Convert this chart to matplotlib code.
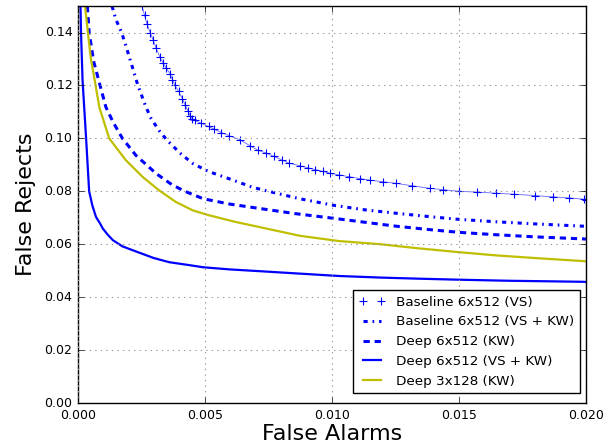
import numpy as np
import matplotlib
matplotlib.use("Agg")
import matplotlib.pyplot as plt
from matplotlib.ticker import FormatStrFormatter

plt.style.use("classic")

# values (false alarm rate, false reject rate)
base_vs_fa = [0.00252, 0.00262, 0.00272, 0.00284, 0.00296, 0.00308, 0.00323,
              0.00335, 0.00348, 0.00362, 0.00372, 0.00382, 0.00396, 0.00411,
              0.00421, 0.00432, 0.00442, 0.00449, 0.00462, 0.00483, 0.00514,
              0.00534, 0.00565, 0.00596, 0.00637, 0.00678, 0.00709, 0.0074,
              0.00771, 0.00802, 0.00832, 0.00873, 0.00904, 0.00935, 0.00966,
              0.00993, 0.01028, 0.01069, 0.0111, 0.01151, 0.01202, 0.01254,
              0.01315, 0.01387, 0.01439, 0.0150, 0.01572, 0.01644, 0.01716,
              0.01798, 0.0187, 0.01932, 0.01994, 0.0200]
base_vs_fr = [0.1500, 0.1465, 0.1432, 0.1400, 0.1372, 0.1340, 0.1306,
              0.1285, 0.1265, 0.1245, 0.1222, 0.1200, 0.1178, 0.1150,
              0.1128, 0.1105, 0.1085, 0.1075, 0.1068, 0.1058, 0.1045,
              0.1036, 0.1022, 0.1010, 0.0995, 0.0972, 0.0955, 0.0945,
              0.0932, 0.0919, 0.0906, 0.0897, 0.0889, 0.0882, 0.0875,
              0.0868, 0.0862, 0.0855, 0.0848, 0.0842, 0.0836, 0.0830,
              0.0821, 0.0811, 0.0806, 0.0800, 0.0797, 0.0793, 0.0789,
              0.0784, 0.0779, 0.0775, 0.0770, 0.0769]

base_vskw_fa = [0.00134, 0.00149, 0.00172, 0.00195, 0.00236, 0.00267,
                0.00288, 0.00319, 0.00349, 0.00401, 0.00452, 0.00514,
                0.00617, 0.00688, 0.0075, 0.00873, 0.01007, 0.0113, 0.01254,
                0.01387, 0.0150, 0.01644, 0.01798, 0.01994, 0.0200]
base_vskw_fr = [0.1500, 0.1450, 0.1400, 0.1330, 0.1200, 0.1120, 0.1075,
                0.1030, 0.0995, 0.0945, 0.0905, 0.0875, 0.0840, 0.0815,
                0.0800, 0.0772, 0.0747, 0.0730, 0.0717, 0.0704, 0.0694,
                0.0685, 0.0677, 0.0668, 0.0667]

deep_kw_fa = [0.00037, 0.00044, 0.00062, 0.00087, 0.0011, 0.00139, 0.00175,
              0.00228, 0.00308, 0.0037, 0.00421, 0.00493, 0.00596, 0.00709,
              0.00853, 0.01007, 0.0113, 0.01254, 0.01387, 0.0150, 0.01644,
              0.01798, 0.01994, 0.0200]
deep_kw_fr = [0.1500, 0.1400, 0.1290, 0.1200, 0.1118, 0.1060, 0.1000,
              0.0936, 0.0867, 0.0825, 0.0800, 0.0772, 0.0752, 0.0736,
              0.0716, 0.0698, 0.0683, 0.0668, 0.0655, 0.0645, 0.0636,
              0.0628, 0.0620, 0.0619]

deep_vskw_fa = [0.00010, 0.00012, 0.00018, 0.00032, 0.00044, 0.00057,
                0.00071, 0.00086, 0.00098, 0.00118, 0.00138, 0.00175,
                0.00236, 0.00298, 0.0036, 0.00432, 0.00493, 0.00596,
                0.00719, 0.00873, 0.01028, 0.01192, 0.01336, 0.0150,
                0.01696, 0.0185, 0.01994, 0.0200]
deep_vskw_fr = [0.1500, 0.1400, 0.1220, 0.1000, 0.0800, 0.0745, 0.0703,
                0.0680, 0.0659, 0.0635, 0.0615, 0.0592, 0.0570, 0.0548,
                0.0532, 0.0522, 0.0513, 0.0505, 0.0498, 0.0489, 0.0480,
                0.0474, 0.0470, 0.0466, 0.0462, 0.0460, 0.0458, 0.0457]

deep3_kw_fa = [0.00028, 0.00039, 0.00051, 0.00066, 0.00084, 0.00123,
               0.00189, 0.00255, 0.00319, 0.00385, 0.00452, 0.00514,
               0.00617, 0.00719, 0.00873, 0.01028, 0.01192, 0.01336,
               0.0150, 0.01644, 0.01798, 0.01994, 0.0200]
deep3_kw_fr = [0.1500, 0.1400, 0.1300, 0.1219, 0.1118, 0.1000, 0.0917,
               0.0854, 0.0804, 0.0760, 0.0728, 0.0710, 0.0685, 0.0664,
               0.0632, 0.0612, 0.0600, 0.0585, 0.0570, 0.0558, 0.0548,
               0.0536, 0.0535]

x_ticks = [0.000, 0.005, 0.010, 0.015, 0.020]
y_ticks = [0.00, 0.02, 0.04, 0.06, 0.08, 0.10, 0.12, 0.14]


def run():
    fig = plt.figure(figsize=(6.13, 4.44), dpi=100, facecolor="white")
    ax = fig.add_axes([0.1272, 0.0923, 0.8287, 0.894])

    # the '+' curve: thin joining line plus the dense markers
    ax.plot(base_vs_fa, base_vs_fr, color="b", lw=0.6, alpha=0.6)
    ax.plot(base_vs_fa, base_vs_fr, linestyle="None", marker="+", ms=6,
            mew=0.8, color="b", label="Baseline 6x512 (VS)")
    ax.plot(base_vskw_fa, base_vskw_fr, color="b", lw=2.2,
            linestyle=(0, (3, 3.5, 1.2, 3.5)),
            label="Baseline 6x512 (VS + KW)")
    ax.plot(deep_kw_fa, deep_kw_fr, color="b", lw=2.2,
            linestyle=(0, (4.5, 3.5)), label="Deep 6x512 (KW)")
    ax.plot(deep_vskw_fa, deep_vskw_fr, color="b", lw=1.6,
            label="Deep 6x512 (VS + KW)")
    ax.plot(deep3_kw_fa, deep3_kw_fr, color="y", lw=1.6,
            label="Deep 3x128 (KW)")

    ax.set_xlim(0, 0.02)
    ax.set_ylim(0, 0.15)
    ax.set_xticks(x_ticks)
    ax.set_yticks(y_ticks)
    ax.xaxis.set_major_formatter(FormatStrFormatter("%.3f"))
    ax.yaxis.set_major_formatter(FormatStrFormatter("%.2f"))
    ax.tick_params(labelsize=9)
    ax.grid(True, color="0.6", linestyle=":", lw=0.8)
    ax.set_xlabel("False Alarms", fontsize=16, labelpad=2)
    ax.set_ylabel("False Rejects", fontsize=16, labelpad=6)

    leg = ax.legend(loc="lower right", fontsize=9.7, numpoints=2,
                    bbox_to_anchor=(0.988, 0.025), borderaxespad=0.0)
    leg.get_frame().set_linewidth(1.0)

    fig.savefig("out.png", dpi=100, facecolor="white")


if __name__ == "__main__":
    run()
